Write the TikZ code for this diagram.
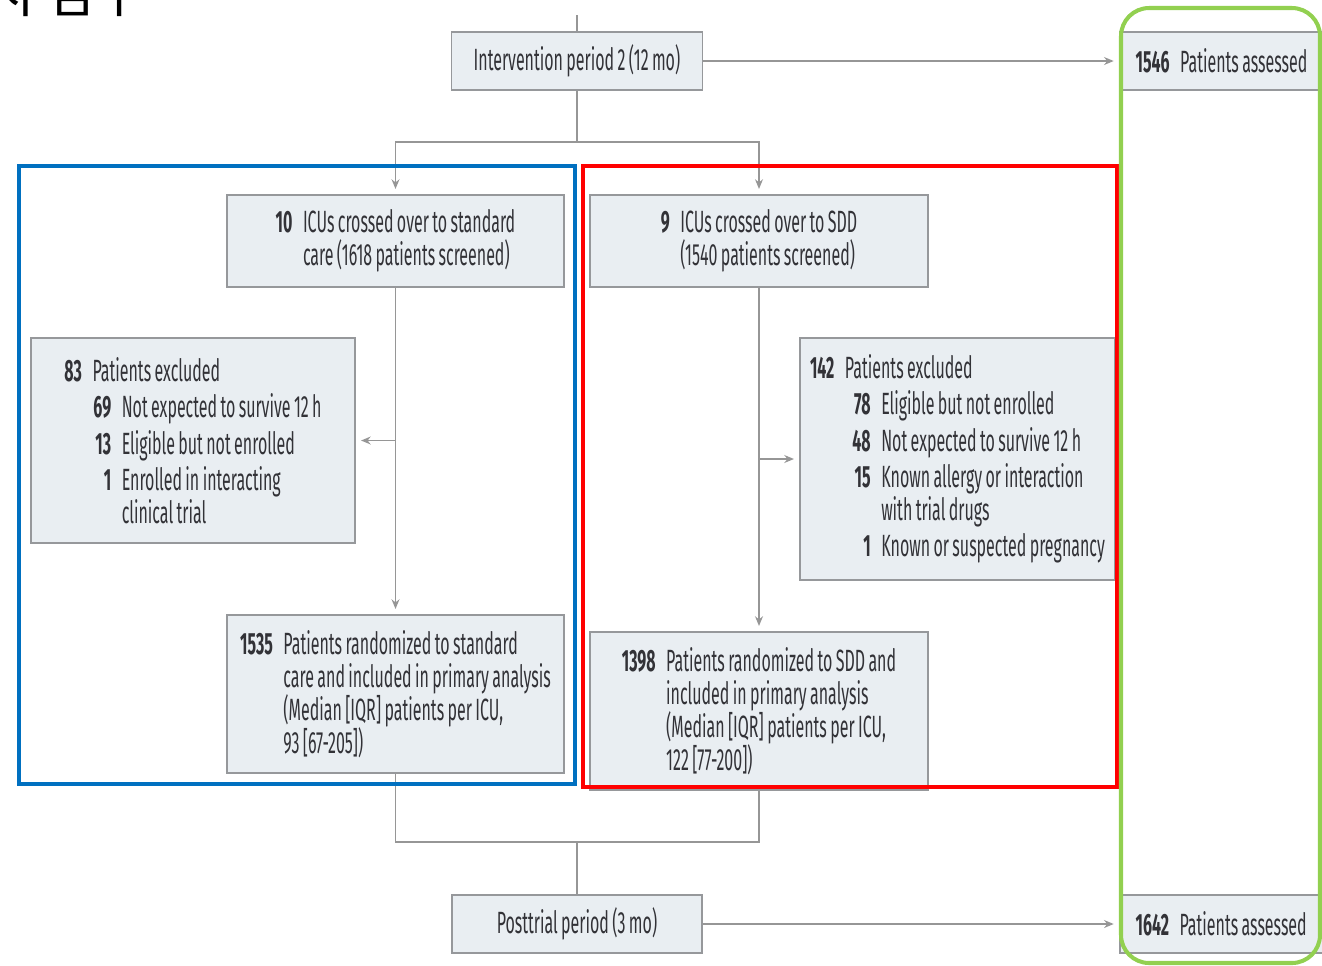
\documentclass[tikz,border=0pt]{standalone}
\usepackage{fontspec}
\setmainfont{Fira Sans}[FakeStretch=0.52, WordSpace=0.8]
\newfontfamily\krfont{Noto Sans CJK KR}
\usetikzlibrary{positioning, arrows.meta, calc}
\usepackage{xcolor}
\definecolor{box-fill}{RGB}{233,238,242}
\definecolor{box-line}{RGB}{150,152,155}
\definecolor{link-color}{RGB}{150,150,150}
\definecolor{txt-color}{RGB}{50,50,55}
\definecolor{std-blue}{RGB}{0,112,192}
\definecolor{sdd-red}{RGB}{255,0,0}
\definecolor{post-green}{RGB}{146,208,80}
% count right aligned in a slot as wide as #1, and the matching indent
\newcommand{\cnt}[2]{{\setbox0\hbox{\textbf{#1}}\hbox to \wd0{\hss\textbf{#2}}}\hspace{6pt}}
\newcommand{\ind}[1]{\phantom{\textbf{#1}}\hspace{6pt}}

\begin{document}
\begin{tikzpicture}[
    x=0.02cm, y=-0.02cm,
    % flow chart boxes
    box/.style={draw=box-line, fill=box-fill, line width=0.9pt, inner sep=0pt,
                align=left, text=txt-color, font=\fontsize{17.5}{18.7}\selectfont},
    pbox/.style={box, minimum width=#1, minimum height=1.16cm},
    cbox/.style={box, minimum width=6.75cm, minimum height=#1},
    abox/.style={box, anchor=west, minimum height=1.16cm, inner xsep=9pt},
    link/.style={draw=link-color, line width=0.8pt},
    arr/.style={link, -{Stealth[length=5.5pt, width=4.5pt]}, shorten >=3pt},
    frame/.style={draw=#1, line width=2.3pt}
]
\useasboundingbox (0, 0) rectangle (1322, 965);

% ===== PERIODS =====
\node[pbox=5.02cm] (interv) at (577, 61) {Intervention period 2 (12 mo)};
\node[pbox=5.0cm] (post) at (577, 924) {Posttrial period (3 mo)};
\node[abox] (assessA) at (1119, 61)
    {\makebox[4cm][l]{\cnt{1546}{1546}Patients assessed}};
\node[abox] (assessB) at (1119, 924)
    {\makebox[4cm][l]{\cnt{1642}{1642}Patients assessed}};

% ===== STANDARD CARE ARM =====
\node[cbox=1.84cm] (crossL) at (395.5, 241)
    {\cnt{10}{10}ICUs crossed over to standard\\
     \ind{10}care (1618 patients screened)};
\node[box, minimum width=6.48cm, minimum height=4.1cm] (exclL) at (193, 440.5)
    {\cnt{83}{83}Patients excluded\\[2pt]
     \ind{83}\cnt{00}{69}Not expected to survive 12 h\\[2pt]
     \ind{83}\cnt{00}{13}Eligible but not enrolled\\[2pt]
     \ind{83}\cnt{00}{1}Enrolled in interacting\\
     \ind{83}\ind{00}clinical trial};
\node[cbox=3.16cm] (randL) at (395.5, 694)
    {\cnt{1535}{1535}Patients randomized to standard\\
     \ind{1535}care and included in primary analysis\\
     \ind{1535}(Median [IQR] patients per ICU,\\
     \ind{1535}93 [67-205])};

% ===== SDD ARM =====
\node[cbox=1.84cm] (crossR) at (759, 241)
    {\cnt{9}{9}ICUs crossed over to SDD\\
     \ind{9}(1540 patients screened)};
\node[box, minimum width=6.3cm, minimum height=4.84cm] (exclR) at (957.5, 459)
    {\cnt{142}{142}Patients excluded\\[2pt]
     \ind{142}\hspace{4pt}\cnt{00}{78}Eligible but not enrolled\\[2pt]
     \ind{142}\hspace{4pt}\cnt{00}{48}Not expected to survive 12 h\\[2pt]
     \ind{142}\hspace{4pt}\cnt{00}{15}Known allergy or interaction\\
     \ind{142}\hspace{4pt}\ind{00}with trial drugs\\[2pt]
     \ind{142}\hspace{4pt}\cnt{00}{1}Known or suspected pregnancy};
\node[cbox=3.16cm] (randR) at (759, 711)
    {\cnt{1398}{1398}Patients randomized to SDD and\\
     \ind{1398}included in primary analysis\\
     \ind{1398}(Median [IQR] patients per ICU,\\
     \ind{1398}122 [77-200])};

% ===== CONNECTORS =====
\coordinate (stub) at (577, 15);
\coordinate (split) at (577, 142);
\coordinate (merge) at (577, 842);

\draw[link] (stub) -- (interv);
\draw[link] (interv) -- (split);
\draw[arr] (split) -| (crossL);
\draw[arr] (split) -| (crossR);
\draw[arr] (interv) -- (assessA);

\draw[arr] (crossL) -- (randL);
\draw[arr] (crossL.south |- exclL.east) -- (exclL);
\draw[arr] (crossR) -- (randR);
\draw[arr] (crossR.south |- exclR.west) -- (exclR);

\draw[link] (randL) |- (merge) -| (randR);
\draw[link] (merge) -- (post);
\draw[arr] (post) -- (assessB);

% ===== HIGHLIGHT FRAMES =====
\draw[frame=std-blue] (19, 166) rectangle (575, 784);
\draw[frame=sdd-red] (583, 166) rectangle (1117, 787);
\draw[frame=post-green, rounded corners=16pt] (1121, 8) rectangle (1320, 963);

% cut-off heading
\node[anchor=base west, inner sep=0pt, font=\krfont\fontsize{30}{30}\selectfont]
    (heading) at (-14, 12) {시 검수};
\end{tikzpicture}
\end{document}
